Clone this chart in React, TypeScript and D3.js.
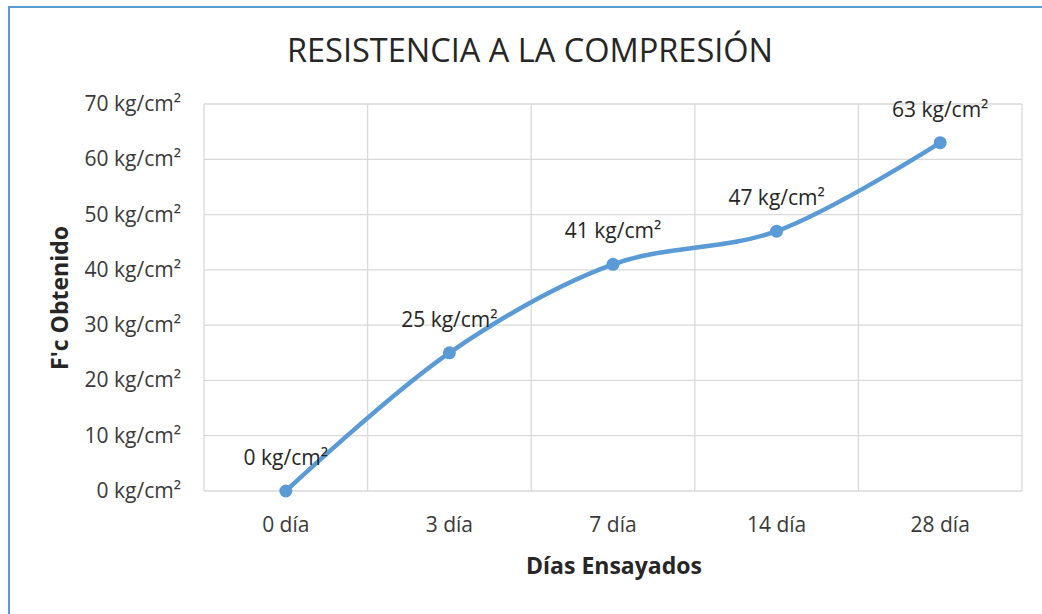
import React from "react";
import * as d3 from "d3";

const categories = ["0 día", "3 día", "7 día", "14 día", "28 día"];
const values = [0, 25, 41, 47, 63];
const yTicks = [0, 10, 20, 30, 40, 50, 60, 70];
const title = "RESISTENCIA A LA COMPRESIÓN";
const xTitle = "Días Ensayados";
const yTitle = "F'c Obtenido";
const unit = " kg/cm²";

const W = 1042;
const H = 614;
const plot = { left: 204, right: 1022, top: 104, bottom: 491 };
const FONT = "'Open Sans', sans-serif";
const BLUE = "#5B9BD5";

export default function App() {
  const x = d3.scaleBand<string>().domain(categories).range([plot.left, plot.right]);
  const y = d3.scaleLinear().domain([0, 70]).range([plot.bottom, plot.top]);
  const pts: [number, number][] = values.map((v, i) => [x(categories[i])! + x.bandwidth() / 2, y(v)]);
  const line = d3.line<[number, number]>().curve(d3.curveCatmullRom.alpha(0.5))(pts) || "";
  const bounds = [...categories.map((c) => x(c)!), plot.right];

  return (
    <svg width={W} height={H} style={{ position: "absolute", left: 0, top: 0, background: "#fff" }}>
      <rect x={0} y={0} width={W} height={H} fill="#fff" />
      <rect x={9} y={7} width={W + 20} height={H + 20} fill="none" stroke={BLUE} strokeWidth={2} />
      <text x={530} y={62} textAnchor="middle" fontFamily={FONT} fontSize={32.5} fill="#262626">
        {title}
      </text>
      {yTicks.map((t) => (
        <g key={t}>
          <line x1={plot.left} x2={plot.right} y1={y(t)} y2={y(t)} stroke="#D9D9D9" strokeWidth={1.3} />
          <text x={181} y={y(t) + 7} textAnchor="end" fontFamily={FONT} fontSize={21} fill="#3a3a3a">
            {t + unit}
          </text>
        </g>
      ))}
      {bounds.map((b, i) => (
        <line key={i} x1={b} x2={b} y1={plot.top} y2={plot.bottom} stroke="#D9D9D9" strokeWidth={1.3} />
      ))}
      {categories.map((c) => (
        <text key={c} x={x(c)! + x.bandwidth() / 2} y={532} textAnchor="middle" fontFamily={FONT} fontSize={21} fill="#3a3a3a">
          {c}
        </text>
      ))}
      <text x={614} y={574} textAnchor="middle" fontFamily={FONT} fontSize={23} fontWeight="bold" fill="#262626">
        {xTitle}
      </text>
      <text
        transform={`translate(68,298) rotate(-90)`}
        textAnchor="middle"
        fontFamily={FONT}
        fontSize={23}
        fontWeight="bold"
        fill="#262626"
      >
        {yTitle}
      </text>
      <path d={line} fill="none" stroke={BLUE} strokeWidth={4.5} strokeLinecap="round" />
      {pts.map((p, i) => (
        <circle key={i} cx={p[0]} cy={p[1]} r={6.5} fill={BLUE} />
      ))}
      {pts.map((p, i) => (
        <text key={i} x={p[0]} y={p[1] - 26} textAnchor="middle" fontFamily={FONT} fontSize={21} fill="#262626">
          {values[i] + unit}
        </text>
      ))}
    </svg>
  );
}
